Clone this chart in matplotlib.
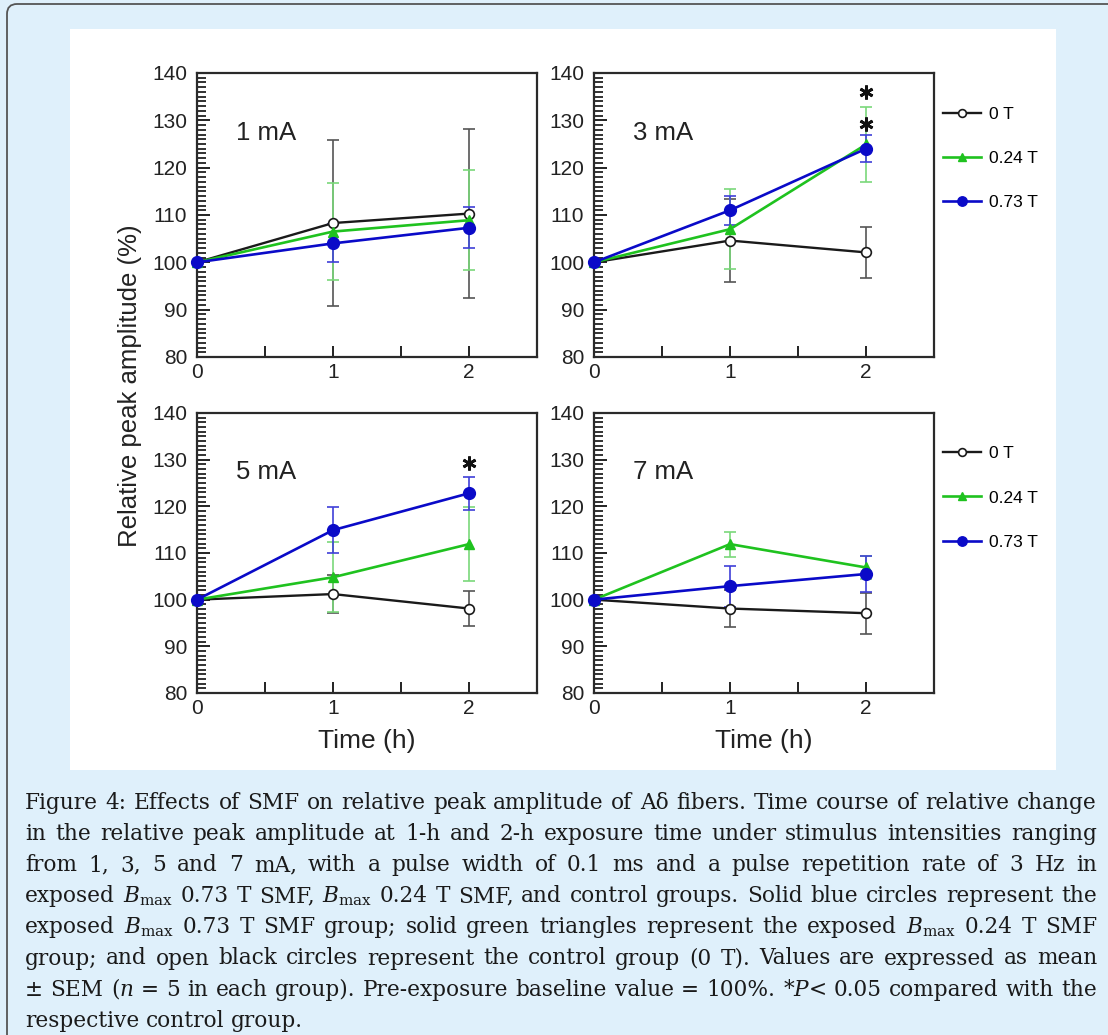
import numpy as np
import matplotlib.pyplot as plt
from matplotlib.patches import FancyBboxPatch, Rectangle
from matplotlib.ticker import MultipleLocator, FixedLocator

plt.rcParams['font.family'] = ['Liberation Sans', 'DejaVu Sans']
plt.rcParams['mathtext.fontset'] = 'dejavuserif'

# data
time_h = [0, 1, 2]
panel_names = ['1 mA', '3 mA', '5 mA', '7 mA']
group_names = ['0 T', '0.24 T', '0.73 T']

mean_0T = [[100, 108.3, 110.3], [100, 104.6, 102.1], [100, 101.2, 98.1], [100, 98.1, 97.1]]
sem_0T = [[0, 17.5, 17.8], [0, 8.7, 5.4], [0, 4.0, 3.8], [0, 3.9, 4.4]]
mean_024T = [[100, 106.5, 108.9], [100, 107.0, 124.9], [100, 104.8, 111.9], [100, 111.9, 106.9]]
sem_024T = [[0, 10.3, 10.6], [0, 8.4, 7.9], [0, 7.5, 7.9], [0, 2.7, 2.5]]
mean_073T = [[100, 104.0, 107.3], [100, 111.0, 124.0], [100, 114.9, 122.8], [100, 102.9, 105.5]]
sem_073T = [[0, 4.0, 4.3], [0, 3.1, 2.9], [0, 5.0, 3.5], [0, 4.4, 3.8]]

star_x = [[], [2, 2], [2], []]
star_y = [[], [136.0, 129.3], [129.2], []]

caption_lines = [
    "Figure 4: Effects of SMF on relative peak amplitude of A\u03b4 fibers. Time course of relative change",
    "in the relative peak amplitude at 1-h and 2-h exposure time under stimulus intensities ranging",
    "from 1, 3, 5 and 7 mA, with a pulse width of 0.1 ms and a pulse repetition rate of 3 Hz in",
    r"exposed $B_{\mathrm{max}}$ 0.73 T SMF, $B_{\mathrm{max}}$ 0.24 T SMF, and control groups. Solid blue circles represent the",
    r"exposed $B_{\mathrm{max}}$ 0.73 T SMF group; solid green triangles represent the exposed $B_{\mathrm{max}}$ 0.24 T SMF",
    "group; and open black circles represent the control group (0 T). Values are expressed as mean",
    "\u00b1 SEM ($n$ = 5 in each group). Pre-exposure baseline value = 100%. *$P$< 0.05 compared with the",
    "respective control group.",
]

W, H = 1108, 1035
fig = plt.figure(figsize=(W / 100, H / 100), dpi=100)
fig.patch.set_facecolor('#dff0fb')

# rounded frame (only top and left edges visible) and white plot area, both behind the axes
frame = FancyBboxPatch((0.07, -0.5), 12, 10.31 + 0.5, boxstyle='round,pad=0,rounding_size=0.1',
                       transform=fig.dpi_scale_trans, facecolor='none', edgecolor='#555555', lw=1.3, zorder=-2)
fig.patches.append(frame)
fig.patches.append(Rectangle((70 / W, 1 - 770 / H), 986 / W, 741 / H, transform=fig.transFigure,
                             facecolor='white', edgecolor='none', zorder=-1))

def px_axes(left, top, right, bottom):
    return [left / W, 1 - bottom / H, (right - left) / W, (bottom - top) / H]

boxes = [px_axes(197, 73, 537, 357), px_axes(594, 73, 934, 357),
         px_axes(197, 413, 537, 693), px_axes(594, 413, 934, 693)]

c_black, c_green, c_blue = '#1a1a1a', '#1fc21f', '#0a0ac8'
e_black, e_green, e_blue = '#555555', '#7ad87a', '#4040d8'

for i, box in enumerate(boxes):
    ax = fig.add_axes(box)
    ax.patch.set_alpha(0)
    ax.errorbar(time_h, mean_0T[i], yerr=sem_0T[i], fmt='none', ecolor=e_black, elinewidth=1.2, capsize=4, capthick=1.2)
    ax.errorbar(time_h, mean_024T[i], yerr=sem_024T[i], fmt='none', ecolor=e_green, elinewidth=1.2, capsize=4, capthick=1.2)
    ax.errorbar(time_h, mean_073T[i], yerr=sem_073T[i], fmt='none', ecolor=e_blue, elinewidth=1.2, capsize=4, capthick=1.2)
    ax.plot(time_h, mean_0T[i], color=c_black, lw=1.7, marker='o', ms=7, mfc='white', mec=c_black, mew=1.2,
            label=group_names[0], clip_on=False, zorder=3)
    ax.plot(time_h, mean_024T[i], color=c_green, lw=1.9, marker='^', ms=7, mfc=c_green, mec=c_green,
            label=group_names[1], clip_on=False, zorder=4)
    ax.plot(time_h, mean_073T[i], color=c_blue, lw=1.9, marker='o', ms=8.5, mfc=c_blue, mec=c_blue,
            label=group_names[2], clip_on=False, zorder=5)
    if star_x[i]:
        ax.plot(star_x[i], star_y[i], linestyle='none', marker=(6, 2, 0), ms=10, mew=2.0, color='#111111', zorder=6)

    ax.set_xlim(0, 2.5)
    ax.set_ylim(80, 140)
    ax.xaxis.set_major_locator(FixedLocator([0, 1, 2]))
    ax.xaxis.set_minor_locator(FixedLocator([0.5, 1.5]))
    ax.yaxis.set_major_locator(MultipleLocator(10))
    ax.yaxis.set_minor_locator(MultipleLocator(1))
    ax.tick_params(axis='both', which='both', direction='in', colors='#222222', labelsize=15, width=1.4)
    ax.tick_params(axis='x', which='both', length=8, pad=4)
    ax.tick_params(axis='y', which='major', length=9, pad=7)
    ax.tick_params(axis='y', which='minor', length=6.5, width=1.3)
    for sp in ax.spines.values():
        sp.set_linewidth(1.6)
        sp.set_color('#2a2a2a')
    ax.text(0.115, 0.79, panel_names[i], transform=ax.transAxes, fontsize=18.5, color='#222222',
            ha='left', va='center')
    if i >= 2:
        ax.set_xlabel('Time (h)', fontsize=19, color='#222222', labelpad=8)
    if i in (1, 3):
        ax.legend(loc='upper left', bbox_to_anchor=(1.025, 0.882), frameon=False, fontsize=12.5,
                  handlelength=2.2, handletextpad=0.45, labelspacing=1.68, borderaxespad=0, borderpad=0,
                  markerscale=0.8)

fig.text(130 / W, 1 - 386 / H, 'Relative peak amplitude (%)', rotation=90, fontsize=18.5,
         color='#222222', ha='center', va='center')

# justified caption, word by word; font size fitted so the widest line just fills the width
fig.canvas.draw()
renderer = fig.canvas.get_renderer()
x0, x1 = 25, 1097
serif = ['DejaVu Serif']
probe = [fig.text(0, 0, ln, fontsize=18, family=serif) for ln in caption_lines[:-1]]
widest = max(t.get_window_extent(renderer).width for t in probe)
for t in probe:
    t.remove()
cap_size = 18 * (x1 - x0) / widest * 0.99

for k, line in enumerate(caption_lines):
    y = 1 - (809 + k * 31.1) / H
    words = line.split(' ')
    items = [fig.text(0, y, w, fontsize=cap_size, family=serif,
                      color='#1a1a1a', va='baseline', ha='left') for w in words]
    widths = [t.get_window_extent(renderer).width for t in items]
    if k == len(caption_lines) - 1:
        gap = 0.3 * cap_size * 100 / 72
    else:
        gap = (x1 - x0 - sum(widths)) / (len(words) - 1)
    xpos = x0
    for t, w in zip(items, widths):
        t.set_x(xpos / W)
        xpos += w + gap

fig.savefig('out.png', dpi=100, facecolor=fig.get_facecolor())
